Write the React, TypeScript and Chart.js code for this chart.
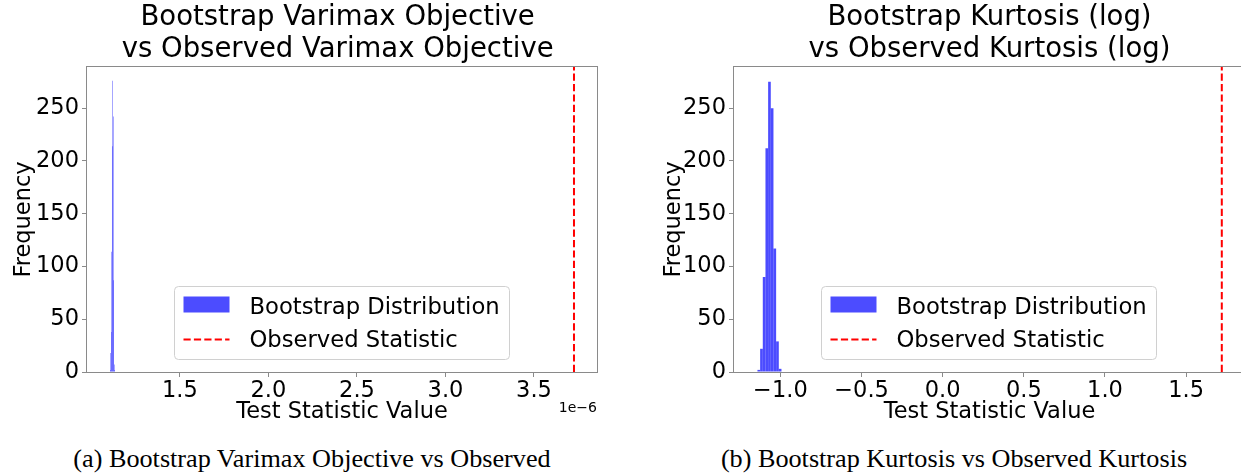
import React, { useEffect, useRef } from "react";
import { Chart, registerables } from "chart.js";

Chart.register(...registerables);

const SANS = "'DejaVu Sans', sans-serif";
const SERIF = "'Liberation Serif', 'DejaVu Serif', serif";

// ---------- Panel (a): varimax objective (values in units of 1e-6) ----------
const varimaxTitle = ["Bootstrap Varimax Objective ", "vs Observed Varimax Objective "];
const varimaxBinCenters = [1.1064, 1.1092, 1.112, 1.1148, 1.1176, 1.1204, 1.1232, 1.126, 1.1288, 1.1316];
const varimaxCounts = [2, 18, 38, 114, 214, 276, 242, 87, 7, 2];
const varimaxObserved = 3.726;
const varimaxXTicks = [1.5, 2.0, 2.5, 3.0, 3.5];
const varimaxXLimits = [0.975, 3.856];
const varimaxOffsetText = "1e\u22126";
const varimaxCaption = "(a) Bootstrap Varimax Objective vs Observed";

// ---------- Panel (b): kurtosis (log) ----------
const kurtosisTitle = ["Bootstrap Kurtosis (log)", "vs Observed Kurtosis (log)"];
const kurtosisBinCenters = [-1.1333, -1.1168, -1.1004, -1.0839, -1.0675, -1.051, -1.0346, -1.0181, -1.0017];
const kurtosisCounts = [2, 22, 90, 212, 275, 250, 117, 29, 3];
const kurtosisObserved = 1.72;
const kurtosisXTicks = [-1.0, -0.5, 0.0, 0.5, 1.0, 1.5];
const kurtosisXLimits = [-1.286, 1.863];
const kurtosisCaption = "(b) Bootstrap Kurtosis vs Observed Kurtosis";

// ---------- shared ----------
const frequencyTicks = [0, 50, 100, 150, 200, 250];
const frequencyLimits = [0, 289];
const histLabel = "Bootstrap Distribution";
const observedLabel = "Observed Statistic";
const xAxisLabel = "Test Statistic Value";
const yAxisLabel = "Frequency";

const BAR_COLOR = "rgba(0,0,255,0.7)";
const SPINE = "#8a8a8a";
const H = 428;

function fmtTick(v: number): string {
  const s = Math.abs(v).toFixed(1);
  return v < -1e-9 ? "\u2212" + s : s;
}

type PanelProps = {
  title: string[];
  centers: number[];
  counts: number[];
  observed: number;
  xTicks: number[];
  xLimits: number[];
  offsetText?: string;
  left: number;
  width: number;
  yAxisWidth: number;
  yTitlePad: number;
  rightPad: number;
};

function Panel(p: PanelProps) {
  const ref = useRef<HTMLCanvasElement>(null);
  useEffect(() => {
    const canvas = ref.current!;
    const framePlugin = {
      id: "frameAndLegend",
      afterDatasetsDraw(chart: any) {
        const { ctx, chartArea: a } = chart;
        ctx.save();
        // spines
        ctx.strokeStyle = SPINE;
        ctx.lineWidth = 1;
        ctx.strokeRect(Math.round(a.left) - 0.5, Math.round(a.top) - 0.5, Math.round(a.right - a.left) + 1, Math.round(a.bottom - a.top) + 1);
        // legend
        const lx = Math.round(a.left + 87) + 0.5;
        const ly = Math.round(a.top + 219) + 0.5;
        const lw = 335;
        const lh = 73;
        ctx.beginPath();
        ctx.roundRect(lx, ly, lw, lh, 4);
        ctx.fillStyle = "rgba(255,255,255,0.8)";
        ctx.fill();
        ctx.strokeStyle = "#d0d0d0";
        ctx.stroke();
        ctx.fillStyle = BAR_COLOR;
        ctx.fillRect(lx + 9, ly + 10, 46, 16);
        ctx.strokeStyle = "red";
        ctx.lineWidth = 2;
        ctx.setLineDash([7.2, 3.2]);
        ctx.beginPath();
        ctx.moveTo(lx + 9, ly + 53);
        ctx.lineTo(lx + 55, ly + 53);
        ctx.stroke();
        ctx.setLineDash([]);
        const ds = chart.data.datasets;
        ctx.fillStyle = "#000";
        ctx.font = `22.7px ${SANS}`;
        ctx.textAlign = "left";
        ctx.textBaseline = "alphabetic";
        ctx.fillText(ds[1].label, lx + 75, ly + 27);
        ctx.fillText(ds[0].label, lx + 75, ly + 60.5);
        // offset text
        if (p.offsetText) {
          ctx.font = `14px ${SANS}`;
          ctx.textAlign = "right";
          ctx.textBaseline = "middle";
          ctx.fillText(p.offsetText, a.right, 408);
        }
        ctx.restore();
      },
    };

    const chart = new Chart(canvas, {
      type: "bar",
      data: {
        datasets: [
          {
            type: "line",
            label: observedLabel,
            data: [
              { x: p.observed, y: frequencyLimits[0] },
              { x: p.observed, y: frequencyLimits[1] },
            ],
            borderColor: "red",
            borderWidth: 2,
            borderDash: [7.2, 3.2],
            pointRadius: 0,
            fill: false,
            order: 1,
          } as any,
          {
            type: "bar",
            label: histLabel,
            data: p.centers.map((c, i) => ({ x: c, y: p.counts[i] })),
            backgroundColor: BAR_COLOR,
            borderWidth: 0,
            barPercentage: 1,
            categoryPercentage: 1,
            inflateAmount: 0,
            order: 2,
          } as any,
        ],
      },
      options: {
        animation: false,
        responsive: false,
        maintainAspectRatio: false,
        devicePixelRatio: 1,
        events: [],
        layout: { padding: { left: 0, right: p.rightPad, top: 0, bottom: 0 } },
        plugins: {
          legend: { display: false },
          tooltip: { enabled: false },
          title: {
            display: true,
            fullSize: false,
            text: p.title,
            color: "#000",
            font: { family: SANS, size: 27.5, weight: "normal", lineHeight: 1.15 },
            padding: { top: 2, bottom: 1.75 },
          },
        },
        scales: {
          x: {
            type: "linear",
            min: p.xLimits[0],
            max: p.xLimits[1],
            bounds: "data",
            offset: false,
            afterBuildTicks: (s: any) => {
              s.ticks = p.xTicks.map((v) => ({ value: v }));
            },
            afterFit: (s: any) => {
              s.height = H - 372;
            },
            ticks: {
              autoSkip: false,
              maxRotation: 0,
              padding: 3,
              color: "#000",
              font: { family: SANS, size: 22.5, lineHeight: 1 },
              callback: (v: any) => fmtTick(Number(v)),
            },
            grid: { drawOnChartArea: false, drawTicks: true, tickLength: 5, tickColor: SPINE, offset: false },
            border: { display: false },
            title: {
              display: true,
              text: xAxisLabel,
              color: "#000",
              font: { family: SANS, size: 22.5, lineHeight: 1.2 },
              padding: { top: 0, bottom: 2 },
            },
          },
          y: {
            type: "linear",
            min: frequencyLimits[0],
            max: frequencyLimits[1],
            bounds: "data",
            afterBuildTicks: (s: any) => {
              s.ticks = frequencyTicks.map((v) => ({ value: v }));
            },
            afterFit: (s: any) => {
              s.width = p.yAxisWidth;
            },
            ticks: {
              autoSkip: false,
              padding: 3,
              color: "#000",
              font: { family: SANS, size: 22.5, lineHeight: 1 },
              callback: (v: any) => String(v),
            },
            grid: { drawOnChartArea: false, drawTicks: true, tickLength: 5, tickColor: SPINE },
            border: { display: false },
            title: {
              display: true,
              text: yAxisLabel,
              color: "#000",
              font: { family: SANS, size: 22.5, lineHeight: 1.2 },
              padding: { top: p.yTitlePad, bottom: 0 },
            },
          },
        },
      },
      plugins: [framePlugin],
    } as any);
    return () => chart.destroy();
  }, []);
  return (
    <canvas
      ref={ref}
      width={p.width}
      height={H}
      style={{ position: "absolute", left: p.left, top: 0, width: p.width, height: H }}
    />
  );
}

const captionStyle: React.CSSProperties = {
  position: "absolute",
  top: 444,
  fontFamily: SERIF,
  fontSize: 26.2,
  lineHeight: "29px",
  textAlign: "center",
  color: "#000",
  whiteSpace: "nowrap",
};

export default function App() {
  return (
    <div
      style={{
        position: "fixed",
        left: 0,
        top: 0,
        width: 1241,
        height: 473,
        overflow: "hidden",
        background: "#fff",
      }}
    >
      <Panel
        title={varimaxTitle}
        centers={varimaxBinCenters}
        counts={varimaxCounts}
        observed={varimaxObserved}
        xTicks={varimaxXTicks}
        xLimits={varimaxXLimits}
        offsetText={varimaxOffsetText}
        left={0}
        width={620}
        yAxisWidth={87}
        yTitlePad={11}
        rightPad={23}
      />
      <Panel
        title={kurtosisTitle}
        centers={kurtosisBinCenters}
        counts={kurtosisCounts}
        observed={kurtosisObserved}
        xTicks={kurtosisXTicks}
        xLimits={kurtosisXLimits}
        left={640}
        width={605}
        yAxisWidth={94}
        yTitlePad={21}
        rightPad={0}
      />
      <div style={{ ...captionStyle, left: 0, width: 624 }}>{varimaxCaption}</div>
      <div style={{ ...captionStyle, left: 640, width: 628 }}>{kurtosisCaption}</div>
    </div>
  );
}
